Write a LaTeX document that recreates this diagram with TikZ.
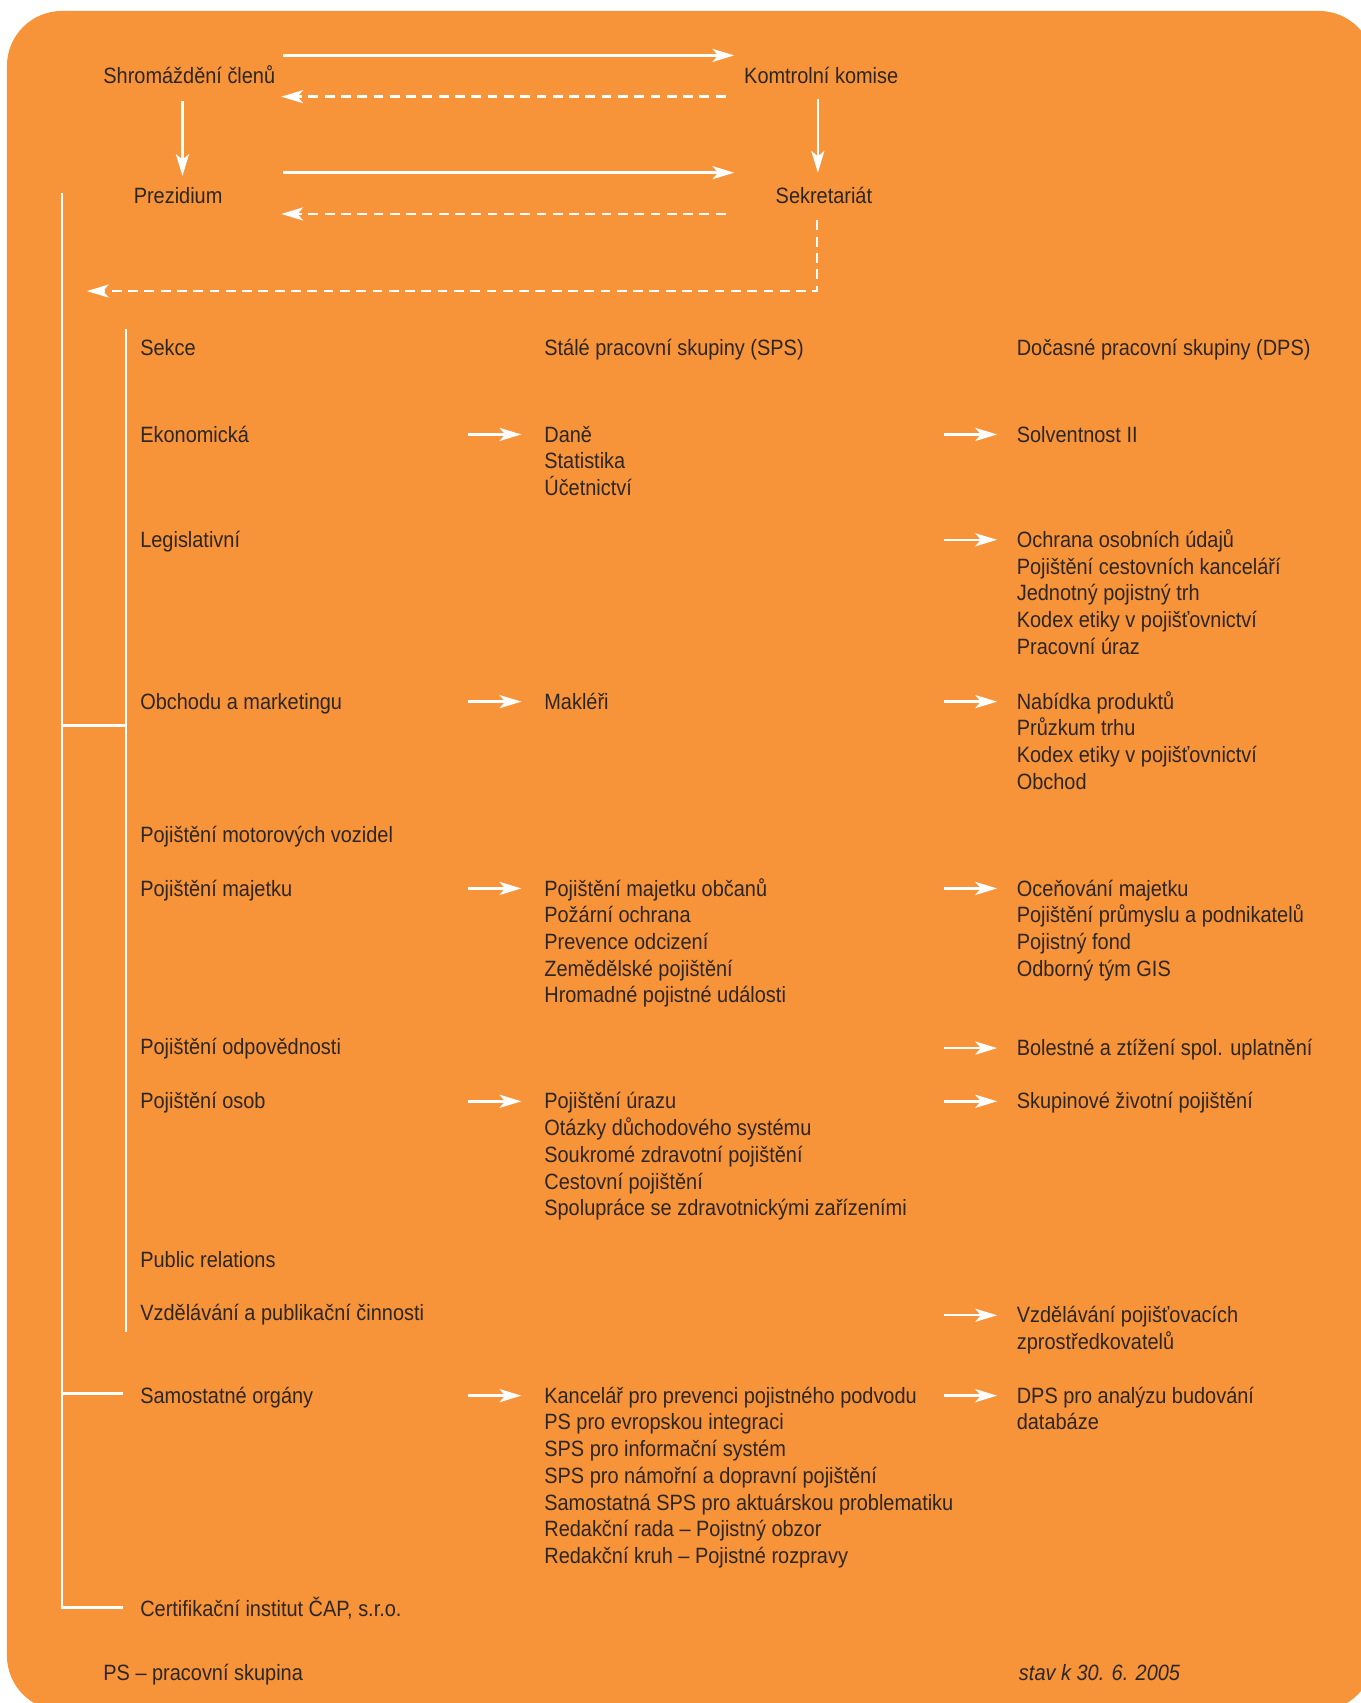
\documentclass[tikz,border=0pt]{standalone}
\usepackage{fontspec}
\setmainfont{Liberation Sans}[FakeStretch=0.9]
\usetikzlibrary{positioning, arrows.meta}
\definecolor{capOrange}{RGB}{247,148,58}
\definecolor{capText}{RGB}{45,38,32}
\newcommand{\rows}[1]{\begin{tabular}[t]{@{}l@{}}#1\end{tabular}}
\tikzset{
>={Stealth[length=20pt, width=12pt, inset=5pt]}, % long white arrow heads
every node/.style={inner sep=0pt, anchor=base west, text=capText, font=\fontsize{20.4}{24.6}\selectfont}, % plain text, no frame
link/.style={white, line width=2.2pt}, % white connector
back/.style={link, dash pattern=on 9pt off 6pt}, % dashed return connector
}

\begin{document}
\begin{tikzpicture}[x=1pt, y=-1pt]
        \useasboundingbox (0,0) rectangle (1253,1568);
        \clip (0,0) rectangle (1253,1568);
        \fill[white] (0,0) rectangle (1253,1568);
        \fill[capOrange, rounded corners=50.6pt] (6.4,10.1) rectangle (1265,1575);

        % top
        \node (shrom) at (95,77) {Shromáždění členů};
        \node (komise) at (685,77) {Komtrolní komise};
        \node (prez) at (123,187) {Prezidium};
        \node (sekr) at (714,187) {Sekretariát};
        \coordinate (back) at (80,268);

        % headings
        \node (sekce) at (129,327) {Sekce};
        \node (sps) at (501,327) {Stálé pracovní skupiny (SPS)};
        \node (dps) at (936,327) {Dočasné pracovní skupiny (DPS)};

        % sections
        \node (ekon) at (129,407) {Ekonomická};
        \node (ekon2) at (501,407) {\rows{Daně\\Statistika\\Účetnictví}};
        \node (ekon3) at (936,407) {Solventnost II};
        \node (legis) at (129,504) {Legislativní};
        \node (legis3) at (936,504) {\rows{Ochrana osobních údajů\\Pojištění cestovních kanceláří\\Jednotný pojistný trh\\Kodex etiky v pojišťovnictví\\Pracovní úraz}};
        \node (obch) at (129,653) {Obchodu a marketingu};
        \node (obch2) at (501,653) {Makléři};
        \node (obch3) at (936,653) {\rows{Nabídka produktů\\Průzkum trhu\\Kodex etiky v pojišťovnictví\\Obchod}};
        \node (motor) at (129,776) {Pojištění motorových vozidel};
        \node (majet) at (129,825) {Pojištění majetku};
        \node (majet2) at (501,825) {\rows{Pojištění majetku občanů\\Požární ochrana\\Prevence odcizení\\Zemědělské pojištění\\Hromadné pojistné události}};
        \node (majet3) at (936,825) {\rows{Oceňování majetku\\Pojištění průmyslu a podnikatelů\\Pojistný fond\\Odborný tým GIS}};
        \node (odpov) at (129,971) {Pojištění odpovědnosti};
        \node (odpov3) at (936,972) {Bolestné a ztížení spol. uplatnění};
        \node (osob) at (129,1021) {Pojištění osob};
        \node (osob2) at (501,1021) {\rows{Pojištění úrazu\\Otázky důchodového systému\\Soukromé zdravotní pojištění\\Cestovní pojištění\\Spolupráce se zdravotnickými zařízeními}};
        \node (osob3) at (936,1021) {Skupinové životní pojištění};
        \node (pr) at (129,1167) {Public relations};
        \node (vzdel) at (129,1216) {Vzdělávání a publikační činnosti};
        \node (vzdel3) at (936,1218) {\rows{Vzdělávání pojišťovacích\\zprostředkovatelů}};
        \node (samo) at (129,1292) {Samostatné orgány};
        \node (samo2) at (501,1292) {\rows{Kancelář pro prevenci pojistného podvodu\\PS pro evropskou integraci\\SPS pro informační systém\\SPS pro námořní a dopravní pojištění\\Samostatná SPS pro aktuárskou problematiku\\Redakční rada -- Pojistný obzor\\Redakční kruh -- Pojistné rozpravy}};
        \node (samo3) at (936,1292) {\rows{DPS pro analýzu budování\\databáze}};
        \node (cert) at (129,1488) {Certifikační institut ČAP, s.r.o.};

        % footer
        \node (note) at (95,1547) {PS -- pracovní skupina};
        \node (date) at (938,1547) {\itshape stav k 30. 6. 2005};

        % bodies
        \path[link, ->] ([shift={(166,-26)}]shrom.base west) edge ([shift={(-9,-26)}]komise.base west)
        ([shift={(138,-28)}]prez.base west) edge ([shift={(-38,-28)}]sekr.base west)
        ([shift={(73,16)}]shrom.base west) edge ([shift={(45,-25)}]prez.base west)
        ([shift={(68,14)}]komise.base west) edge ([shift={(39,-28)}]sekr.base west);
        \path[back, ->] ([shift={(-17,12)}]komise.base west) edge ([shift={(164,12)}]shrom.base west)
        ([shift={(-46,10)}]sekr.base west) edge ([shift={(136,10)}]prez.base west);
        \draw[back, ->] ([shift={(38,16)}]sekr.base west) |- (back);

        % tree
        \coordinate (trunk) at (57,178);
        \coordinate (brk) at (116,303);
        \coordinate (brkend) at (116,1226);
        \coordinate (join) at (116,668);
        \draw[link] (trunk) |- ([shift={(-16,-8)}]cert.base west);
        \draw[link] (brk) -- (brkend);
        \draw[link] (trunk |- join) -- (join);
        \draw[link] ([shift={(-16,-9)}]samo.base west) -- ++(-56,0);

        % groups
        \path[link, ->] ([shift={(-70,-7)}]ekon2.base west) edge ([shift={(-21,-7)}]ekon2.base west)
        ([shift={(-70,-7)}]obch2.base west) edge ([shift={(-21,-7)}]obch2.base west)
        ([shift={(-70,-7)}]majet2.base west) edge ([shift={(-21,-7)}]majet2.base west)
        ([shift={(-70,-7)}]osob2.base west) edge ([shift={(-21,-7)}]osob2.base west)
        ([shift={(-70,-7)}]samo2.base west) edge ([shift={(-21,-7)}]samo2.base west)
        ([shift={(-67,-7)}]ekon3.base west) edge ([shift={(-18,-7)}]ekon3.base west)
        ([shift={(-67,-7)}]legis3.base west) edge ([shift={(-18,-7)}]legis3.base west)
        ([shift={(-67,-7)}]obch3.base west) edge ([shift={(-18,-7)}]obch3.base west)
        ([shift={(-67,-7)}]majet3.base west) edge ([shift={(-18,-7)}]majet3.base west)
        ([shift={(-67,-7)}]odpov3.base west) edge ([shift={(-18,-7)}]odpov3.base west)
        ([shift={(-67,-7)}]osob3.base west) edge ([shift={(-18,-7)}]osob3.base west)
        ([shift={(-67,-7)}]vzdel3.base west) edge ([shift={(-18,-7)}]vzdel3.base west)
        ([shift={(-67,-7)}]samo3.base west) edge ([shift={(-18,-7)}]samo3.base west);
\end{tikzpicture}
\end{document}
